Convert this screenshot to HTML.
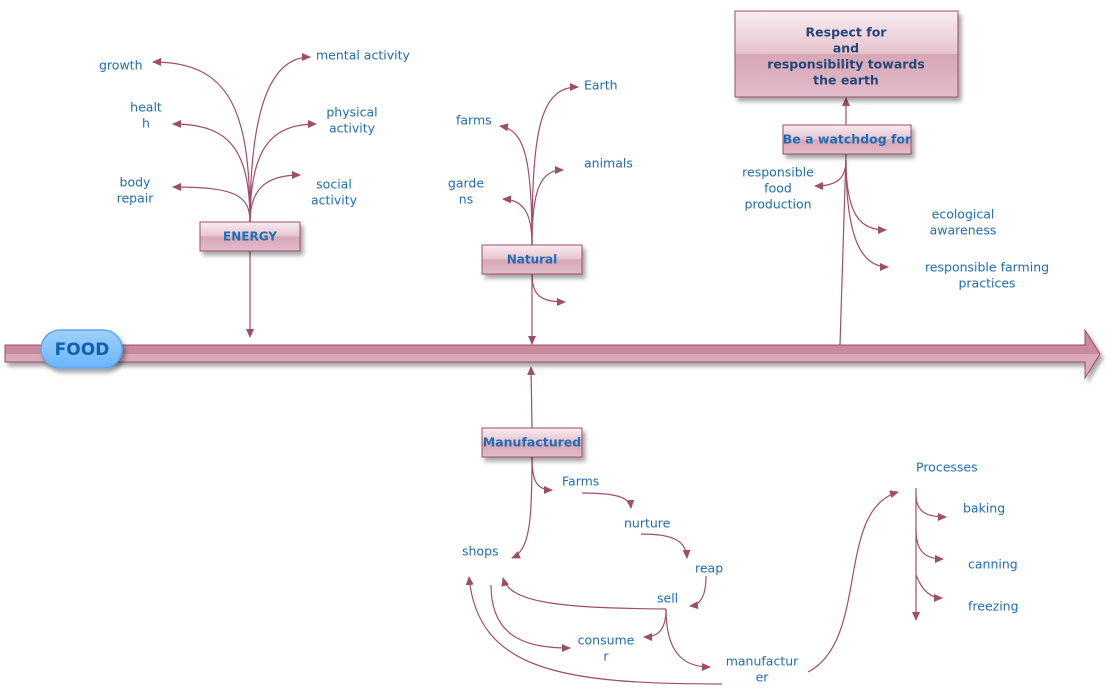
<!DOCTYPE html>
<html><head><meta charset="utf-8"><style>
body{margin:0;background:#fff;}
svg{display:block;}
text{font-family:"DejaVu Sans","Liberation Sans",sans-serif;font-size:12.5px;fill:#1f6db3;dominant-baseline:middle;}
.c{text-anchor:middle;}
.b{font-weight:bold;}
path.l{fill:none;stroke:#a04d6c;stroke-width:1.2;}
</style></head><body>
<svg width="1112" height="694" viewBox="0 0 1112 694">
<defs>
<marker id="a" markerWidth="10" markerHeight="8" refX="8" refY="4" orient="auto" markerUnits="userSpaceOnUse"><path d="M0,0 L9,4 L0,8 z" fill="#a04d6c"/></marker>
<linearGradient id="g" x1="0" y1="0" x2="0" y2="1"><stop offset="0" stop-color="#f8eef2"/><stop offset="0.5" stop-color="#e6c2cd"/><stop offset="0.5" stop-color="#d6a6b5"/><stop offset="1" stop-color="#e3bccb"/></linearGradient>
<linearGradient id="bar" x1="0" y1="0" x2="0" y2="1"><stop offset="0" stop-color="#c88a9c"/><stop offset="0.5" stop-color="#c88a9c"/><stop offset="0.5" stop-color="#d9a9b7"/><stop offset="1" stop-color="#d9a9b7"/></linearGradient>
<linearGradient id="pill" x1="0" y1="0" x2="0" y2="1"><stop offset="0" stop-color="#9fd0ff"/><stop offset="1" stop-color="#6ab6fb"/></linearGradient>
<filter id="s" x="-10%" y="-10%" width="130%" height="160%"><feDropShadow dx="3" dy="4" stdDeviation="2" flood-opacity="0.35"/></filter>
</defs>

<!-- main bar -->
<path d="M5,345 L1085,345 L1085,330 L1100,354 L1085,378 L1085,362 L5,362 Z" fill="url(#bar)" stroke="#a04d6c" stroke-width="1" filter="url(#s)"/>
<rect x="41" y="330" width="81" height="38" rx="19" fill="url(#pill)" stroke="#5aa8f0" stroke-width="1.5" filter="url(#s)"/>
<text x="82" y="350" class="c b" style="font-size:17px;fill:#1060b0">FOOD</text>

<!-- ENERGY -->
<path class="l" d="M250,251 L250,337" marker-end="url(#a)"/>
<path class="l" d="M250,222 C250,110 230,62 153,62" marker-end="url(#a)"/>
<path class="l" d="M250,222 C250,150 230,124 173,124" marker-end="url(#a)"/>
<path class="l" d="M250,222 C250,195 235,187 173,187" marker-end="url(#a)"/>
<path class="l" d="M250,222 C250,110 270,57 310,57" marker-end="url(#a)"/>
<path class="l" d="M250,222 C250,150 270,124 316,124" marker-end="url(#a)"/>
<path class="l" d="M250,222 C250,190 265,175 300,175" marker-end="url(#a)"/>
<rect x="200" y="222" width="100" height="29" fill="url(#g)" stroke="#a04d6c" filter="url(#s)"/>
<text x="250" y="237" class="c b" style="font-size:12px">ENERGY</text>
<text x="99" y="66">growth</text>
<text x="146" y="108" class="c">healt</text><text x="146" y="124" class="c">h</text>
<text x="135" y="183" class="c">body</text><text x="135" y="199" class="c">repair</text>
<text x="316" y="56">mental activity</text>
<text x="352" y="113" class="c">physical</text><text x="352" y="129" class="c">activity</text>
<text x="334" y="185" class="c">social</text><text x="334" y="201" class="c">activity</text>

<!-- Natural -->
<path class="l" d="M532,274 L532,344" marker-end="url(#a)"/>
<path class="l" d="M532,245 C532,130 540,87 578,87" marker-end="url(#a)"/>
<path class="l" d="M532,245 C532,160 525,130 500,126" marker-end="url(#a)"/>
<path class="l" d="M532,245 C532,190 540,170 563,170" marker-end="url(#a)"/>
<path class="l" d="M532,245 C532,215 525,200 503,199" marker-end="url(#a)"/>
<path class="l" d="M532,274 C532,295 540,302 565,302" marker-end="url(#a)"/>
<rect x="482" y="245" width="100" height="29" fill="url(#g)" stroke="#a04d6c" filter="url(#s)"/>
<text x="532" y="260" class="c b" style="font-size:12px">Natural</text>
<text x="584" y="86">Earth</text>
<text x="456" y="121">farms</text>
<text x="584" y="164">animals</text>
<text x="466" y="184" class="c">garde</text><text x="466" y="200" class="c">ns</text>

<!-- Watchdog -->
<path class="l" d="M846,154 L840,345"/>
<path class="l" d="M846,125 L846,98" marker-end="url(#a)"/>
<path class="l" d="M846,160 C846,180 835,186 815,186" marker-end="url(#a)"/>
<path class="l" d="M846,160 C846,215 860,230 886,230" marker-end="url(#a)"/>
<path class="l" d="M846,160 C846,235 860,267 888,267" marker-end="url(#a)"/>
<rect x="735" y="11" width="223" height="86" fill="url(#g)" stroke="#a04d6c" filter="url(#s)"/>
<text x="846" y="33" class="c b" style="fill:#24477a">Respect for</text>
<text x="846" y="49" class="c b" style="fill:#24477a">and</text>
<text x="846" y="65" class="c b" style="fill:#24477a">responsibility towards</text>
<text x="846" y="81" class="c b" style="fill:#24477a">the earth</text>
<rect x="783" y="125" width="128" height="29" fill="url(#g)" stroke="#a04d6c" filter="url(#s)"/>
<text x="847" y="140" class="c b" style="font-size:12.5px">Be a watchdog for</text>
<text x="778" y="173" class="c">responsible</text><text x="778" y="189" class="c">food</text><text x="778" y="205" class="c">production</text>
<text x="963" y="215" class="c">ecological</text><text x="963" y="231" class="c">awareness</text>
<text x="987" y="268" class="c">responsible farming</text><text x="987" y="284" class="c">practices</text>

<!-- Manufactured -->
<path class="l" d="M532,428 L531,367" marker-end="url(#a)"/>
<path class="l" d="M532,457 C532,480 536,490 552,490" marker-end="url(#a)"/>
<path class="l" d="M532,457 C532,520 530,550 512,558" marker-end="url(#a)"/>
<path class="l" d="M582,493 C615,493 630,497 631,508" marker-end="url(#a)"/>
<path class="l" d="M641,534 C672,534 686,540 687,558" marker-end="url(#a)"/>
<path class="l" d="M706,576 C706,597 700,605 690,606" marker-end="url(#a)"/>
<path class="l" d="M666,609 C560,608 510,603 503,578" marker-end="url(#a)"/>
<path class="l" d="M666,609 C666,630 658,637 644,637" marker-end="url(#a)"/>
<path class="l" d="M666,609 C666,660 690,667 710,667" marker-end="url(#a)"/>
<path class="l" d="M491,585 C491,640 530,648 570,648" marker-end="url(#a)"/>
<path class="l" d="M722,684 C560,684 478,670 469,577" marker-end="url(#a)"/>
<path class="l" d="M808,672 C870,640 835,510 898,492" marker-end="url(#a)"/>
<path class="l" d="M916,488 L916,620" marker-end="url(#a)"/>
<path class="l" d="M916,495 C916,513 928,517 946,517" marker-end="url(#a)"/>
<path class="l" d="M916,530 C916,552 926,559 943,559" marker-end="url(#a)"/>
<path class="l" d="M916,575 C922,590 930,598 942,598" marker-end="url(#a)"/>
<rect x="482" y="428" width="100" height="29" fill="url(#g)" stroke="#a04d6c" filter="url(#s)"/>
<text x="532" y="443" class="c b" style="font-size:12.5px">Manufactured</text>
<text x="562" y="482">Farms</text>
<text x="624" y="524">nurture</text>
<text x="695" y="569">reap</text>
<text x="657" y="599">sell</text>
<text x="462" y="552">shops</text>
<text x="606" y="641" class="c">consume</text><text x="606" y="657" class="c">r</text>
<text x="762" y="662" class="c">manufactur</text><text x="762" y="678" class="c">er</text>
<text x="916" y="468">Processes</text>
<text x="963" y="509">baking</text>
<text x="968" y="565">canning</text>
<text x="968" y="607">freezing</text>
</svg>
</body></html>
